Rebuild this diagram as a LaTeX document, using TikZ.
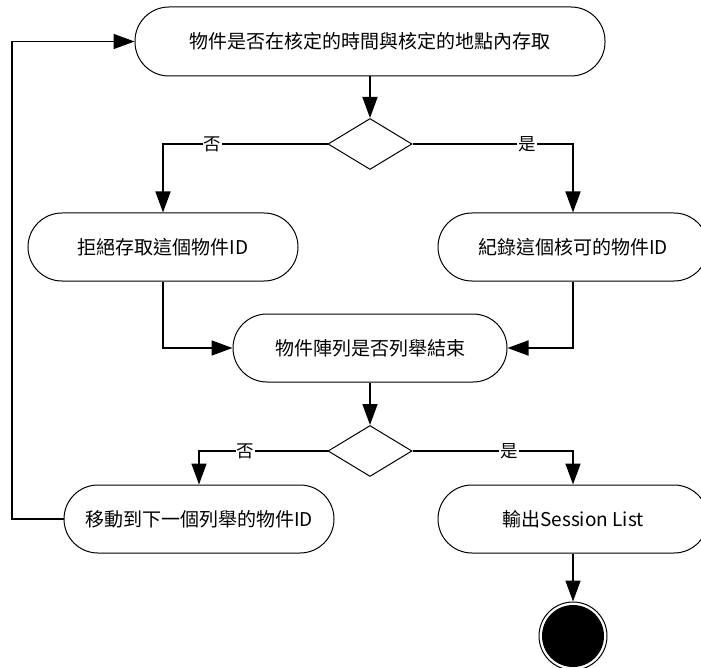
\documentclass[tikz,border=0pt]{standalone}
\usepackage{fontspec}
\setmainfont{Noto Sans CJK TC}
\usetikzlibrary{shapes.geometric,arrows.meta}
\begin{document}
\begin{tikzpicture}[x=1pt,y=-1pt,
  act/.style={draw=black, line width=1pt, rectangle, rounded corners=34pt, minimum height=68pt, inner sep=0pt, font=\fontsize{19}{23}\selectfont},
  dec/.style={draw=black, line width=1pt, diamond, minimum width=84pt, minimum height=51pt, inner sep=0pt},
  conn/.style={draw=black, line width=1.6pt, -{Triangle[length=21pt,width=15pt]}},
  lab/.style={fill=white, inner sep=1pt, font=\fontsize{17.5}{20}\selectfont}
]
\useasboundingbox (0,0) rectangle (701,668);
\node[act, minimum width=470pt, minimum height=69pt] (topact) at (370,41.5) {物件是否在核定的時間與核定的地點內存取};
\node[dec] (d1) at (370,144) {};
\node[act, minimum width=270pt] (rej) at (163,247) {拒絕存取這個物件ID};
\node[act, minimum width=270pt] (rec) at (573,247) {紀錄這個核可的物件ID};
\node[act, minimum width=274pt] (mid) at (370,348) {物件陣列是否列舉結束};
\node[dec] (d2) at (370,451) {};
\node[act, minimum width=270pt] (nxt) at (199,519) {移動到下一個列舉的物件ID};
\node[act, minimum width=270pt] (out) at (573,519) {輸出Session List};
\node[circle, draw=black, line width=1pt, minimum size=68pt, inner sep=0pt] (fin) at (573,636) {};
\node[circle, fill=black, minimum size=62pt, inner sep=0pt] (finin) at (fin.center) {};
\coordinate (loop) at (12,519);

\draw[conn] (topact.south) -- (d1.north);
\draw[conn] (d1.west) -| node[lab, pos=0.35] {否} (rej.north);
\draw[conn] (d1.east) -| node[lab, pos=0.357] {是} (rec.north);
\draw[conn] (rej.south) |- (mid.west);
\draw[conn] (rec.south) |- (mid.east);
\draw[conn] (mid.south) -- (d2.north);
\draw[conn] (d2.west) -| node[lab, pos=0.32] {否} (nxt.north);
\draw[conn] (d2.east) -| node[lab, pos=0.30] {是} (out.north);
\draw[conn] (nxt.west) -- (loop) |- (topact.west);
\draw[conn] (out.south) -- (fin.north);
\end{tikzpicture}
\end{document}
